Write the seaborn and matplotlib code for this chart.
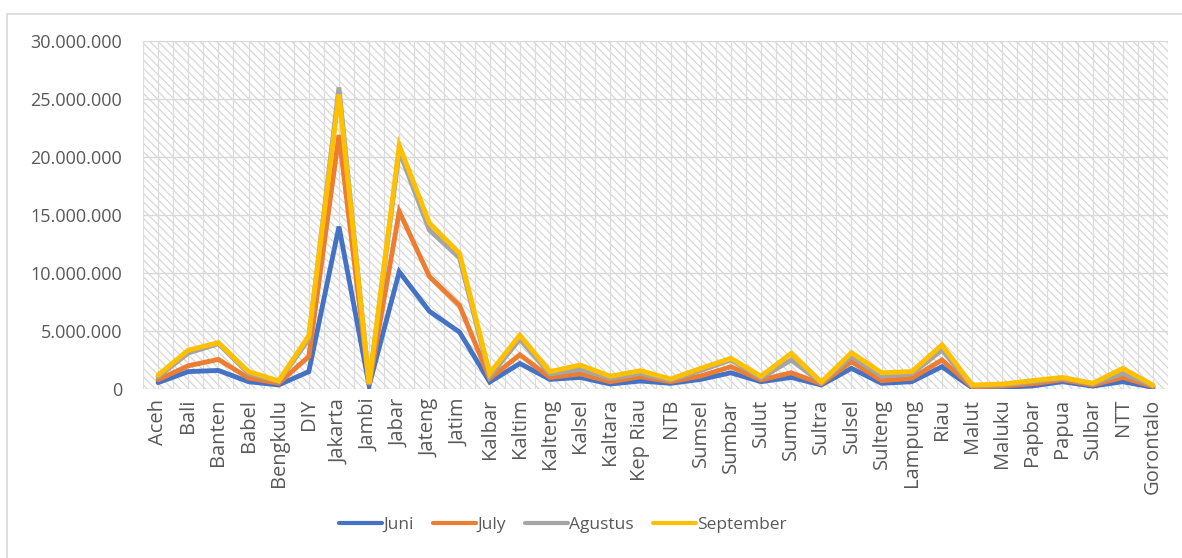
import matplotlib
matplotlib.use("Agg")
import matplotlib.pyplot as plt
from matplotlib.patches import Rectangle
from matplotlib.ticker import FuncFormatter, MultipleLocator
import numpy as np
import pandas as pd
import seaborn as sns

provinces = ["Aceh", "Bali", "Banten", "Babel", "Bengkulu", "DIY", "Jakarta", "Jambi",
             "Jabar", "Jateng", "Jatim", "Kalbar", "Kaltim", "Kalteng", "Kalsel", "Kaltara",
             "Kep Riau", "NTB", "Sumsel", "Sumbar", "Sulut", "Sumut", "Sultra", "Sulsel",
             "Sulteng", "Lampung", "Riau", "Malut", "Maluku", "Papbar", "Papua", "Sulbar",
             "NTT", "Gorontalo"]

juni = [0.55, 1.5, 1.6, 0.63, 0.35, 1.5, 14.0, 0.3, 10.1, 6.7, 4.9, 0.6, 2.2, 0.83, 1.0, 0.43,
        0.69, 0.49, 0.83, 1.4, 0.63, 1.0, 0.35, 1.78, 0.49, 0.63, 1.92, 0.12, 0.15, 0.26, 0.63,
        0.25, 0.63, 0.15]
july = [0.8, 2.0, 2.55, 0.95, 0.5, 2.8, 21.9, 0.35, 15.3, 9.7, 7.2, 0.9, 2.95, 1.0, 1.3, 0.63,
        1.06, 0.63, 1.12, 1.92, 0.78, 1.4, 0.45, 2.36, 0.72, 0.92, 2.5, 0.2, 0.25, 0.45, 0.8,
        0.35, 1.0, 0.22]
agustus = [1.05, 3.1, 3.9, 1.35, 0.65, 4.3, 26.0, 0.4, 20.5, 13.7, 11.3, 1.1, 4.3, 1.3, 1.7, 0.9,
           1.35, 0.75, 1.6, 2.5, 0.95, 2.5, 0.55, 2.8, 1.1, 1.3, 3.36, 0.28, 0.35, 0.62, 0.92,
           0.45, 1.35, 0.3]
september = [1.2, 3.35, 4.0, 1.5, 0.7, 4.6, 25.4, 0.45, 21.0, 14.3, 11.7, 1.35, 4.65, 1.5, 2.07, 1.1,
             1.58, 0.86, 1.78, 2.65, 1.1, 3.07, 0.6, 3.13, 1.4, 1.5, 3.8, 0.34, 0.43, 0.72, 1.0,
             0.49, 1.78, 0.34]

series_names = ["Juni", "July", "Agustus", "September"]
colors = ["#4472C4", "#ED7D31", "#A5A5A5", "#FFC000"]

rows = []
for name, vals in zip(series_names, [juni, july, agustus, september]):
    for i, (p, v) in enumerate(zip(provinces, vals)):
        rows.append({"idx": i, "Provinsi": p, "Bulan": name, "Nilai": v * 1_000_000})
df = pd.DataFrame(rows)

sns.set_theme(style="white")
plt.rcParams["font.family"] = ["Open Sans", "DejaVu Sans"]

fig = plt.figure(figsize=(11.82, 5.58), dpi=100)
ax = fig.add_axes([143 / 1182, 1 - 389 / 558, (1168 - 143) / 1182, (389 - 41) / 558])

# chart border
fig.patches.append(Rectangle((7 / 1182, -0.01), 1.2, 1 - 14 / 558 + 0.01,
                             transform=fig.transFigure, fill=False,
                             edgecolor="#d9d9d9", linewidth=1.2, zorder=0))

# hatched plot area
plt.rcParams["hatch.linewidth"] = 0.8
ax.add_patch(Rectangle((0, 0), 1, 1, transform=ax.transAxes, facecolor="white",
                       edgecolor="#d4d4d4", hatch="\\\\\\\\", linewidth=0, zorder=0))

sns.lineplot(data=df, x="idx", y="Nilai", hue="Bulan", hue_order=series_names,
             palette=colors, linewidth=3.5, sort=False, ax=ax, zorder=3,
             solid_joinstyle="miter", solid_capstyle="round")

ax.set_xlim(-0.5, len(provinces) - 0.5)
ax.set_ylim(0, 30_000_000)
ax.yaxis.set_major_locator(MultipleLocator(5_000_000))
ax.yaxis.set_major_formatter(FuncFormatter(lambda v, p: f"{int(v):,}".replace(",", ".")))
ax.set_xticks(range(len(provinces)))
ax.set_xticklabels(provinces, rotation=90)

# gridlines
for v in range(0, 30_000_001, 5_000_000):
    ax.axhline(v, color="#d9d9d9", linewidth=1.0, zorder=1)
for xv in np.arange(-0.5, len(provinces), 0.5):
    ax.axvline(xv, color="#dcdcdc", linewidth=0.9, zorder=1)

for s in ax.spines.values():
    s.set_visible(False)
ax.tick_params(axis="y", length=0, labelsize=13, colors="#595959", pad=15)
ax.tick_params(axis="x", length=0, labelsize=14.5, colors="#595959", pad=7)
ax.set_xlabel("")
ax.set_ylabel("")

handles, labels = ax.get_legend_handles_labels()
for h in handles:
    h.set_linewidth(3.0)
leg = ax.legend(handles, labels, loc="center", ncol=4, frameon=False, fontsize=12.5,
                handlelength=2.5, handletextpad=0.05, columnspacing=1.1,
                labelcolor="#595959")
leg.set_bbox_to_anchor((0.476, 1 - 525 / 558), transform=fig.transFigure)

fig.savefig("out.png", dpi=100, facecolor="white")
